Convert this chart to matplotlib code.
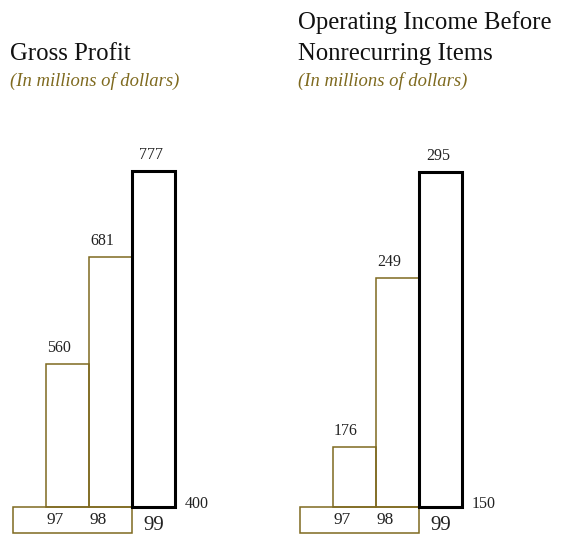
import matplotlib
matplotlib.use("Agg")
import matplotlib.pyplot as plt
from matplotlib.patches import Rectangle

years = ["97", "98", "99"]
gross_profit = [560, 681, 777]
gross_base = 400
op_income = [176, 249, 295]
op_base = 150

titles = ["Gross Profit", "Operating Income Before\nNonrecurring Items"]
subtitle = "(In millions of dollars)"

OLIVE = "#7f6a1f"
FONT = "Liberation Serif"

W, H = 569, 537
fig = plt.figure(figsize=(W / 100, H / 100), dpi=100)

def panel(L, Wd, c0, values, base, scale):
    bw = 43.0
    base_px = 507.0
    ax = fig.add_axes([L / W, 0, Wd / W, 1])
    ax.set_xlim((L - c0) / bw, (L + Wd - c0) / bw)
    ax.set_ylim(base - (H - base_px) / scale, base + base_px / scale)
    ax.axis("off")
    x = list(range(len(values)))
    heights = [v - base for v in values]
    ec = [OLIVE, OLIVE, "black"]
    lw = [1.1, 1.1, 2.2]
    for i in x:
        ax.bar(i, heights[i], bottom=base, width=1.0, fill=False,
               edgecolor=ec[i], linewidth=lw[i], zorder=3)
    # year label box
    box_h = 26 / scale
    ax.add_patch(Rectangle((-1.26, base - box_h), 1.5 + 1.26, box_h,
                           fill=False, edgecolor=OLIVE, linewidth=1.1))
    offs = [-0.2, -0.2, -0.05]
    for i in x:
        ax.text(i + offs[i], values[i] + 8 / scale, str(values[i]),
                ha="center", va="bottom", fontsize=11.5, family=FONT, color="#222222")
    for i in x[:2]:
        ax.text(i - 0.29, base - 13 / scale, years[i], ha="center", va="center",
                fontsize=12.5, family=FONT, color="#222222")
    ax.text(2, base - 28.5 / scale, years[2], ha="center", va="bottom",
            fontsize=15, family=FONT, color="#222222")
    ax.text(2.5 + 10 / bw, base + 3 / scale, str(base), ha="left", va="center",
            fontsize=11.5, family=FONT, color="#222222")
    return ax

panel(0, 284, 67.5, gross_profit, gross_base, 336 / 377)
panel(284, 285, 354.5, op_income, op_base, 335 / 145)

fig.text(10 / W, 1 - 60 / H, titles[0], ha="left", va="baseline",
         fontsize=17.8, family=FONT, color="#111111")
fig.text(298 / W, 1 - 60 / H, titles[1], ha="left", va="baseline",
         fontsize=17.8, family=FONT, color="#111111", linespacing=1.55)
for xpx in (10, 298):
    fig.text(xpx / W, 1 - 86 / H, subtitle, ha="left", va="baseline",
             fontsize=13.4, family=FONT, style="italic", color=OLIVE)

fig.savefig("out.png", dpi=100)
